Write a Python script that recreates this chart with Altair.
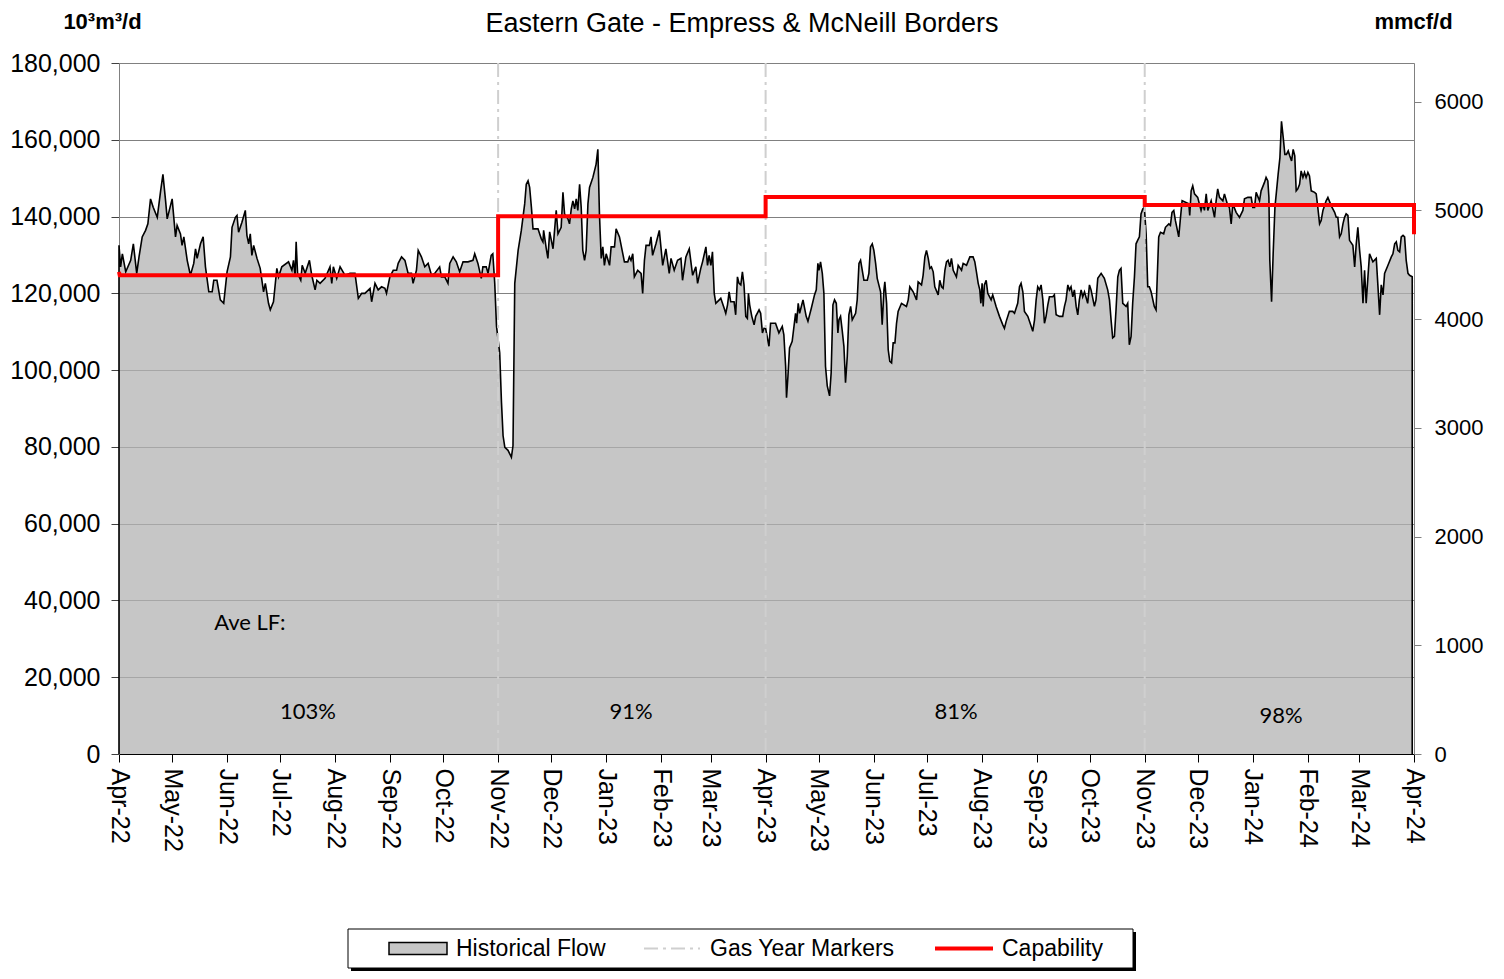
import altair as alt
import pandas as pd

START = pd.Timestamp("2022-04-01")
M3_TO_MMCF = 0.0353147  # 10^3 m3/d -> mmcf/d

# Daily flow: (days since 2022-04-01, flow in thousands of 10^3 m3/d)
flow_gy2022_summer = [
    (0, 132.5), (0.9, 126.9), (1.9, 130.3), (3.8, 125.6), (6.6, 128.6), (8.1, 132.9), (10, 125.2),
    (11.3, 129.5), (13.1, 134.7), (15, 136.4), (16.3, 138.1), (17.8, 144.6), (19.3, 142.4),
    (21.6, 139.8), (23.5, 146.7), (24.8, 151.0), (26.3, 144.1), (27.2, 139.4), (30, 144.6),
    (31.9, 134.7), (32.8, 137.7), (34.7, 135.5), (35.6, 132.5), (36.6, 134.7), (38.5, 128.6),
    (40.3, 124.7), (42.2, 127.8), (43.2, 131.6), (44.1, 129.1), (46, 132.9), (47.5, 134.7),
    (48.8, 126.9), (50.7, 120.4), (52.6, 120.4), (53.5, 123.4), (55.3, 123.4), (57.2, 118.3),
    (59.1, 117.4), (61, 125.6), (62.9, 129.5), (63.8, 137.2), (65.7, 139.8), (66.6, 140.3),
    (67.5, 135.9), (69.4, 138.5), (71.3, 141.6), (72.2, 135.1), (73.2, 132.9), (74.1, 135.5),
    (75, 129.9), (76, 132.5), (77.9, 129.1), (79.7, 126.5), (81.6, 120.4), (82.6, 122.6),
    (84.4, 117.4), (85.4, 115.7), (87.2, 117.8), (89.1, 126.5), (90.1, 124.3), (91.9, 126.9),
    (95.7, 128.2), (97.6, 126.0), (98.5, 128.6), (99.4, 124.3), (100, 133.4), (100.8, 125.2),
    (102.6, 123.4), (103.4, 127.3), (105.1, 125.2), (107.5, 128.6), (108.8, 124.7), (110.7, 120.9),
    (111.7, 123.4), (113.5, 122.6), (116.3, 123.9), (119.1, 126.9), (120.1, 122.6), (121, 126.9),
    (122.9, 123.9), (124.8, 126.9), (127.6, 124.7), (130.4, 125.2), (133.2, 125.2), (135.1, 118.7),
    (137, 120.0), (138.8, 120.0), (141.7, 121.3), (142.6, 117.8), (144.5, 122.6), (146.3, 120.9),
    (148.2, 121.7), (150.1, 121.3), (151, 120.0), (152.9, 124.3), (154.8, 126.0), (156.7, 126.0),
    (157.6, 127.8), (159.5, 129.5), (161.4, 128.6), (163.2, 125.2), (165.1, 125.2), (166, 122.6),
    (167.9, 126.0), (168.9, 131.2), (170.7, 129.5), (172.6, 126.9), (174.5, 127.8), (176.4, 124.7),
    (178.2, 125.2), (181, 126.9), (182, 124.3), (183.9, 124.3), (185.7, 122.6), (186.7, 127.8),
    (188.6, 129.5), (190.4, 128.2), (192.3, 125.6), (194.2, 128.2), (197, 128.2), (199.8, 128.6),
    (200.8, 130.3), (202.6, 127.8), (204.5, 123.9), (205.4, 126.9), (207.3, 126.9), (208.3, 125.2),
    (210.1, 129.9), (211, 130.3), (212.1, 122.6),
]

flow_gy2022_winter = [
    (213.1, 111.4), (214.9, 104.5), (215.9, 91.6), (216.8, 82.9), (217.8, 79.9), (219.6, 79.1),
    (221.5, 77.3), (222.4, 80.3), (223.4, 122.6), (225.3, 131.2), (227.1, 136.4), (229, 143.3),
    (229.9, 148.4), (230.9, 149.3), (231.8, 147.6), (232.8, 142.4), (233.7, 136.8), (236.5, 136.8),
    (238.4, 134.2), (239.3, 133.4), (239.7, 136.4), (241.2, 131.6), (242.1, 129.1), (243.1, 136.0),
    (245, 131.6), (246.8, 141.6), (247.8, 135.5), (249.6, 137.2), (250.6, 146.3), (251.5, 140.7),
    (253.4, 139.4), (254.3, 138.1), (255.3, 142.0), (256.2, 144.1), (257.2, 142.0), (258.1, 144.6),
    (259, 141.6), (260, 148.4), (260.9, 142.4), (261.8, 131.2), (262.8, 128.6), (263.7, 131.2),
    (264.7, 143.3), (265.6, 147.6), (267.5, 150.2), (269.3, 153.6), (270.3, 157.5), (271.2, 140.7),
    (272.2, 129.1), (273.1, 132.1), (274, 127.3), (275, 130.3), (276.9, 127.3), (277.8, 132.1),
    (279.7, 132.1), (280.6, 136.8), (282.5, 134.7), (284.4, 130.3), (285.3, 128.2), (287.2, 128.2),
    (288.1, 129.5), (289, 128.6), (290, 130.3), (290.9, 124.3), (292.8, 126.0), (294.7, 125.2),
    (295.6, 120.0), (296.6, 128.6), (297.5, 132.5), (299.4, 132.5), (300.3, 134.7), (301.2, 129.9),
    (303.1, 132.9), (305, 136.4), (306.9, 127.3), (308.7, 131.6), (310.6, 125.2), (311.6, 129.1),
    (313.4, 126.0), (315.3, 128.6), (317.2, 129.1), (318.1, 123.4), (320, 129.5), (321.9, 131.6),
    (323.8, 124.7), (325.6, 126.9), (326.6, 122.6), (328.4, 126.5), (329.4, 128.2), (331.3, 132.1),
    (332.2, 127.3), (333.1, 129.9), (334.1, 127.3), (335, 130.8), (336, 120.0), (336.9, 117.4),
    (339.7, 118.7), (341.6, 116.1), (342.5, 114.8), (343.5, 117.0), (344.4, 120.4), (345.3, 117.8),
    (347.2, 117.8), (348.1, 114.4), (349.1, 124.3), (350, 122.6), (351, 122.2), (351.9, 125.6),
    (352.8, 122.2), (353.8, 114.0), (354.7, 113.5), (355.3, 120.0), (356, 117.0), (357.2, 114.0),
    (358.5, 111.8), (359.4, 114.0), (361.3, 115.7), (362.2, 114.8), (363.2, 109.7), (364.1, 110.9),
]

flow_gy2023_summer = [
    (365.0, 110.9), (366.9, 106.2), (367.8, 112.2), (370.6, 112.2), (372.5, 109.7), (374.4, 111.4),
    (375.3, 109.2), (376.3, 101.0), (376.8, 92.8), (377.6, 98.4), (378.5, 105.8), (380.0, 107.5),
    (381.9, 114.8), (382.5, 112.2), (383.4, 117.4), (384.2, 114.8), (386.1, 118.3), (387.9, 114.0),
    (388.9, 112.7), (390.8, 116.1), (392.6, 119.6), (393.6, 120.9), (394.5, 127.8), (395.1, 126.0),
    (396.0, 128.2), (397.0, 125.2), (397.9, 120.0), (398.8, 101.0), (399.8, 95.9), (401.1, 93.3),
    (402.0, 99.3), (403.0, 117.0), (403.9, 118.3), (404.9, 117.4), (405.8, 109.7), (406.4, 113.1),
    (407.3, 114.0), (408.2, 110.5), (409.2, 106.2), (410.1, 96.7), (411.1, 103.6), (412.0, 114.4),
    (413.0, 116.6), (413.9, 113.1), (415.8, 114.8), (416.7, 118.3), (417.7, 127.8), (418.6, 128.6),
    (420.5, 123.4), (422.4, 123.4), (423.3, 125.2), (424.2, 132.1), (425.2, 132.9), (426.1, 131.2),
    (427.1, 127.8), (428.0, 123.9), (429.9, 120.4), (430.8, 111.8), (431.8, 120.9), (432.3, 123.0),
    (433.3, 117.4), (434.2, 105.3), (435.1, 102.3), (436.1, 101.9), (437.0, 107.1), (438.0, 107.1),
    (438.9, 112.2), (439.8, 115.3), (441.7, 117.4), (444.5, 116.6), (445.5, 118.3), (446.4, 121.7),
    (448.3, 120.4), (450.2, 118.3), (451.1, 123.0), (453.0, 122.2), (453.9, 124.7), (454.9, 129.5),
    (455.8, 131.2), (456.8, 129.1), (457.7, 126.5), (458.6, 126.9), (459.6, 125.6), (460.5, 121.7),
    (462.4, 119.6), (463.3, 123.4), (464.3, 121.7), (465.2, 121.3), (466.2, 126.0), (467.1, 128.2),
    (468.0, 128.6), (469.0, 126.9), (469.9, 129.1), (470.9, 126.0), (472.7, 124.3), (473.7, 127.3),
    (475.6, 126.0), (476.5, 127.8), (478.4, 127.3), (480.3, 129.5), (482.1, 129.5), (483.1, 128.2),
    (484.0, 125.6), (485.0, 122.6), (485.9, 120.9), (486.5, 117.4), (487.2, 122.6), (487.8, 116.6),
    (488.5, 122.2), (489.5, 123.4), (490.4, 120.0), (492.3, 118.3), (493.2, 119.6), (495.1, 116.6),
    (497.0, 114.0), (498.9, 111.8), (499.8, 110.9), (500.8, 112.7), (502.6, 115.3), (504.5, 115.3),
    (505.5, 114.8), (507.3, 117.4), (508.3, 121.7), (509.2, 122.6), (510.2, 120.4), (511.1, 115.3),
    (513.0, 114.0), (514.9, 111.4), (515.8, 110.1), (516.8, 113.1), (517.7, 118.3), (518.6, 121.7),
    (519.6, 120.9), (520.5, 122.2), (521.5, 118.3), (522.4, 112.2), (523.3, 114.0), (524.3, 117.0),
    (525.2, 119.1), (527.1, 119.1), (528.0, 119.6), (529.0, 114.4), (530.9, 114.0), (532.7, 114.0),
    (533.7, 116.6), (534.6, 118.3), (535.6, 122.2), (536.5, 120.9), (537.4, 121.7), (538.4, 119.1),
    (539.3, 120.9), (540.3, 116.6), (541.2, 114.4), (542.1, 118.3), (543.1, 120.9), (544.0, 119.1),
    (545.0, 120.4), (546.8, 117.4), (547.8, 122.2), (548.7, 120.9), (550.6, 116.6), (551.5, 118.3),
    (552.5, 123.9), (554.4, 125.2), (556.2, 123.9), (558.1, 120.9), (559.1, 118.3), (560.0, 113.1),
    (560.9, 108.4), (561.9, 108.8), (562.8, 115.7), (563.8, 124.3), (564.7, 126.0), (565.6, 126.5),
    (566.6, 117.4), (568.5, 116.6), (569.4, 117.4), (570.3, 106.6), (571.3, 108.8), (572.2, 117.4),
    (573.2, 124.3), (574.1, 132.9), (575.0, 133.8), (576.0, 134.7), (576.9, 140.7), (577.9, 142.0),
    (578.8, 142.4), (579.8, 135.5), (580.7, 121.7), (581.6, 121.7), (582.6, 120.4), (584.4, 116.6),
    (585.4, 115.7),
]

flow_gy2023_winter = [
    (586.9, 134.7), (587.9, 135.9), (589.7, 135.5), (590.7, 137.2), (592.6, 138.1), (593.5, 137.7),
    (594.4, 141.1), (595.4, 141.6), (596.3, 139.0), (598.2, 134.7), (599.2, 139.8), (600.1, 144.1),
    (602.0, 143.7), (603.9, 143.3), (604.4, 140.3), (605.2, 146.7), (606.1, 148.0), (607.1, 145.9),
    (608.9, 145.0), (610.8, 141.6), (611.8, 143.3), (612.7, 141.6), (613.7, 145.9), (614.6, 141.6),
    (616.5, 144.1), (618.4, 139.8), (619.3, 144.1), (620.2, 147.2), (621.2, 145.0), (623.1, 144.1),
    (624.0, 145.9), (625.9, 142.8), (626.8, 142.4), (627.8, 138.1), (628.7, 143.3), (630.6, 141.1),
    (632.5, 139.8), (634.4, 141.6), (635.3, 144.6), (637.2, 145.0), (639.1, 145.0), (640.0, 142.4),
    (641.0, 142.4), (641.9, 146.3), (643.8, 144.1), (644.7, 146.7), (646.6, 148.9), (647.5, 150.2),
    (648.5, 149.3), (649.1, 145.0), (649.6, 128.6), (650.6, 117.8), (651.5, 130.3), (652.5, 142.4),
    (653.4, 146.7), (654.3, 151.0), (655.3, 155.3), (656.2, 164.8), (657.2, 160.5), (658.1, 156.2),
    (659.0, 156.2), (660.0, 157.1), (660.9, 155.8), (661.9, 154.5), (662.8, 157.5), (663.7, 155.8),
    (664.5, 146.7), (665.4, 147.2), (666.4, 148.4), (667.3, 151.9), (668.3, 150.2), (669.2, 151.5),
    (670.1, 150.2), (671.1, 151.5), (672.0, 150.6), (673.0, 146.7), (674.9, 146.3), (675.8, 145.9),
    (676.7, 142.4), (677.7, 138.1), (678.6, 139.0), (679.6, 141.6), (681.4, 144.1), (682.4, 145.0),
    (684.3, 142.8), (686.2, 141.1), (687.1, 139.8), (688.0, 139.8), (689.0, 134.7), (689.9, 135.5),
    (690.9, 138.1), (691.8, 139.8), (692.7, 140.7), (693.7, 140.3), (694.6, 133.8), (696.5, 132.5),
    (697.5, 126.9), (698.4, 132.9), (699.3, 137.2), (700.3, 131.2), (701.2, 126.9), (702.2, 117.4),
    (703.1, 126.0), (704.0, 117.4), (705.0, 124.3), (705.9, 130.3), (707.8, 128.2), (709.7, 129.1),
    (710.6, 122.2), (711.6, 114.4), (712.5, 122.2), (713.5, 119.6), (714.4, 125.2), (716.3, 127.3),
    (718.2, 129.5), (719.1, 130.3), (720.1, 132.9), (721.0, 133.4), (721.9, 131.2), (722.9, 130.8),
    (723.8, 134.7), (724.8, 135.1), (725.7, 134.7), (726.6, 128.6), (727.6, 125.2), (728.5, 124.7),
    (730.0, 124.3),
]

# Capability step line (days since 2022-04-01, thousands of 10^3 m3/d)
cap_day = [0, 0.4, 214, 214, 365, 365, 579, 579, 731, 731]
cap_val = [125.6, 124.7, 124.7, 140.1, 140.1, 145.1, 145.1, 143.0, 143.0, 135.4]

# Gas year markers
marker_dates = ["2022-11-01T00:00:00", "2023-04-01T00:00:00", "2023-11-01T00:00:00"]

# Average load factor annotations
lf_text = ["103%", "91%", "81%", "98%"]
lf_day = [106.7, 289.0, 472.5, 656.0]
lf_y = [10900, 10900, 10900, 9900]
ave_label = "Ave LF:"
ave_day = 73.9
ave_y = 34100


def to_date(d):
    return (START + pd.to_timedelta(d, unit="D")).strftime("%Y-%m-%dT%H:%M:%S")


flow = flow_gy2022_summer + flow_gy2022_winter + flow_gy2023_summer + flow_gy2023_winter
flow_df = pd.DataFrame({
    "date": [to_date(d) for d, _ in flow],
    "v": [v * 1000 for _, v in flow],
})
outline = [(0, 0)] + flow + [(730.0, 0)]
line_df = pd.DataFrame({
    "date": [to_date(d) for d, _ in outline],
    "v": [v * 1000 for _, v in outline],
    "i": list(range(len(outline))),
})
cap_df = pd.DataFrame({
    "date": [to_date(d) for d in cap_day],
    "v": [v * 1000 for v in cap_val],
    "m": [v * 1000 * M3_TO_MMCF for v in cap_val],
    "i": list(range(len(cap_day))),
})
marker_df = pd.DataFrame({"date": marker_dates})
lf_df = pd.DataFrame({
    "date": [to_date(d) for d in lf_day],
    "v": lf_y,
    "t": lf_text,
})
ave_df = pd.DataFrame({"date": [to_date(ave_day)], "v": [ave_y], "t": [ave_label]})
one = pd.DataFrame({"a": [0]})

FONT = "Liberation Sans"
month_ticks = [alt.DateTime(year=t.year, month=t.month, date=1)
               for t in pd.date_range("2022-04-01", "2024-04-01", freq="MS")]

x_enc = alt.X(
    "date:T",
    scale=alt.Scale(domain=[alt.DateTime(year=2022, month=4, date=1),
                            alt.DateTime(year=2024, month=4, date=1)]),
    axis=alt.Axis(values=month_ticks, format="%b-%y", labelAngle=90, labelFontSize=25,
                  labelFont=FONT, labelColor="black", tickSize=8, tickColor="black",
                  domainColor="black", grid=False, labelPadding=6, labelOverlap=False,
                  labelFlush=False, title=None),
)
y_enc = alt.Y(
    "v:Q",
    scale=alt.Scale(domain=[0, 180000], nice=False),
    axis=alt.Axis(values=list(range(0, 180001, 20000)), format=",.0f", labelFontSize=25,
                  labelFont=FONT, labelColor="black", tickSize=8, tickColor="#404040",
                  domainColor="#808080", gridColor="#808080", gridWidth=1,
                  labelPadding=11, title=None),
)

area = alt.Chart(flow_df).mark_area(color="#b3b3b3", fillOpacity=0.75).encode(x=x_enc, y=y_enc)
line = alt.Chart(line_df).mark_line(color="black", strokeWidth=1.6).encode(
    x="date:T", y="v:Q", order="i:Q")
markers = alt.Chart(marker_df).mark_rule(color="#cfcfcf", strokeWidth=2,
                                         strokeDash=[14, 5, 3, 5]).encode(x="date:T")
cap = alt.Chart(cap_df).mark_line(color="#ff0000", strokeWidth=4).encode(
    x="date:T", y="v:Q", order="i:Q")
lf = alt.Chart(lf_df).mark_text(font="Lato", fontSize=22, color="black",
                                baseline="middle").encode(x="date:T", y="v:Q", text="t:N")
ave = alt.Chart(ave_df).mark_text(font="Lato", fontSize=22, color="black",
                                  baseline="middle").encode(x="date:T", y="v:Q", text="t:N")

title = alt.Chart(one).mark_text(text="Eastern Gate - Empress & McNeill Borders", font=FONT,
                                 fontSize=27, color="black", baseline="alphabetic").encode(
    x=alt.value(623), y=alt.value(-31))
unit_l = alt.Chart(one).mark_text(text="10³m³/d", font=FONT, fontSize=22, fontWeight="bold",
                                  color="black", baseline="alphabetic").encode(
    x=alt.value(-16.5), y=alt.value(-34.5))
unit_r = alt.Chart(one).mark_text(text="mmcf/d", font=FONT, fontSize=22, fontWeight="bold",
                                  color="black", baseline="alphabetic").encode(
    x=alt.value(1294.5), y=alt.value(-34.5))

# Legend (drawn as decoration below the plot)
LY = 885.5
leg_shadow = alt.Chart(one).mark_rect(fill="black").encode(
    x=alt.value(232), x2=alt.value(1017), y=alt.value(869), y2=alt.value(908))
leg_box = alt.Chart(one).mark_rect(fill="white", stroke="black", strokeWidth=1).encode(
    x=alt.value(229), x2=alt.value(1014), y=alt.value(866), y2=alt.value(905))
leg_area = alt.Chart(one).mark_rect(fill="#c6c6c6", stroke="black", strokeWidth=1.5).encode(
    x=alt.value(270), x2=alt.value(328), y=alt.value(LY - 6), y2=alt.value(LY + 6))
leg_mark = alt.Chart(one).mark_rule(color="#cfcfcf", strokeWidth=2,
                                    strokeDash=[14, 5, 3, 5]).encode(
    x=alt.value(525), x2=alt.value(581), y=alt.value(LY))
leg_cap = alt.Chart(one).mark_rule(color="#ff0000", strokeWidth=4).encode(
    x=alt.value(816), x2=alt.value(874), y=alt.value(LY))
leg_txt = []
for label, xp in [("Historical Flow", 337), ("Gas Year Markers", 591), ("Capability", 883)]:
    leg_txt.append(alt.Chart(one).mark_text(text=label, font=FONT, fontSize=23, color="black",
                                            align="left", baseline="middle").encode(
        x=alt.value(xp), y=alt.value(LY)))

left_layer = alt.layer(area, line, markers, cap, lf, ave, title, unit_l, unit_r,
                       leg_shadow, leg_box, leg_area, leg_mark, leg_cap, *leg_txt)

right_layer = alt.Chart(cap_df).mark_point(opacity=0).encode(
    x="date:T",
    y=alt.Y("m:Q", scale=alt.Scale(domain=[0, 180000 * M3_TO_MMCF], nice=False),
            axis=alt.Axis(orient="right", values=list(range(0, 6001, 1000)), format="d",
                          labelFontSize=22, labelFont=FONT, labelColor="black", grid=False,
                          tickSize=7, tickColor="#808080", domainColor="#808080",
                          labelPadding=13, title=None)),
)

chart = alt.layer(left_layer, right_layer).resolve_scale(y="independent").properties(
    width=1295, height=691,
    autosize=alt.AutoSizeParams(type="none"),
    padding={"left": 111, "top": 55, "right": 75, "bottom": 217},
).configure_view(strokeWidth=0).configure(font=FONT)

chart.save("out.html", embed_options={"renderer": "svg", "actions": False})
